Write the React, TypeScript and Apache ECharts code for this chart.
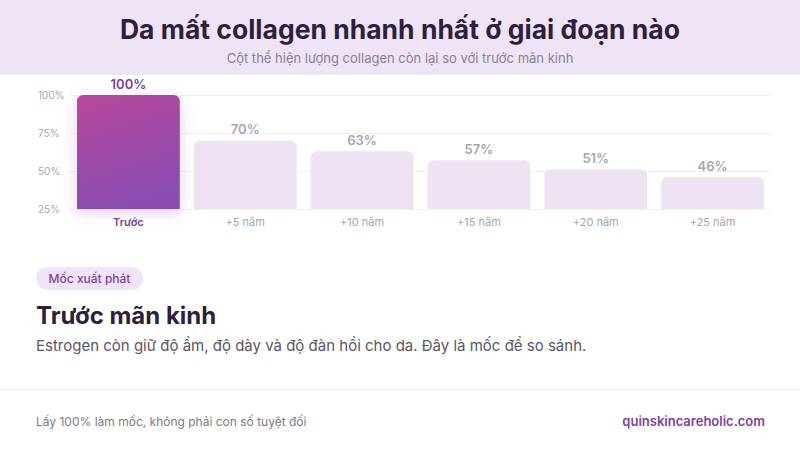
import React, { useEffect, useRef } from 'react';
import * as echarts from 'echarts';

const title = 'Da mất collagen nhanh nhất ở giai đoạn nào';
const subtitle = 'Cột thể hiện lượng collagen còn lại so với trước mãn kinh';
const categories = ['Trước', '+5 năm', '+10 năm', '+15 năm', '+20 năm', '+25 năm'];
const values = [100, 70, 63, 57, 51, 46];
const badgeText = 'Mốc xuất phát';
const stageTitle = 'Trước mãn kinh';
const stageText = 'Estrogen còn giữ độ ẩm, độ dày và độ đàn hồi cho da. Đây là mốc để so sánh.';
const footNote = 'Lấy 100% làm mốc, không phải con số tuyệt đối';
const siteName = 'quinskincareholic.com';

const FONT = 'Inter, "Noto Sans", sans-serif';
const DARK = '#2d1f3d';
const PURPLE = '#7d3fa3';
const GREY = '#a9a4b0';

const App: React.FC = () => {
    const chartRef = useRef<HTMLDivElement>(null);

    useEffect(() => {
        if (!chartRef.current) return;
        const chart = echarts.init(chartRef.current, null, { renderer: 'svg' });

        const highlight = new echarts.graphic.LinearGradient(0, 0, 0.3, 1, [
            { offset: 0, color: '#b8479b' },
            { offset: 1, color: '#894db1' },
        ]);

        const option = {
            animation: false,
            backgroundColor: '#ffffff',
            textStyle: { fontFamily: FONT },
            title: {
                text: title,
                subtext: subtitle,
                left: 'center',
                top: 10,
                itemGap: 9,
                textStyle: { fontFamily: FONT, fontSize: 26.5, fontWeight: 700, color: DARK },
                subtextStyle: { fontFamily: FONT, fontSize: 13, color: '#8a8192' },
            },
            grid: { left: 70, right: 29, top: 95, bottom: 241 },
            xAxis: {
                type: 'category',
                data: categories,
                axisLine: { show: false },
                axisTick: { show: false },
                axisLabel: {
                    margin: 7,
                    fontSize: 11,
                    color: GREY,
                    formatter: (v: string, i: number) => (i === 0 ? `{hl|${v}}` : v),
                    rich: { hl: { color: PURPLE, fontWeight: 600, fontSize: 11, fontFamily: FONT } },
                },
            },
            yAxis: {
                type: 'value',
                min: 25,
                max: 100,
                interval: 25,
                axisLabel: {
                    formatter: '{value}%',
                    align: 'left',
                    margin: 32,
                    fontSize: 10,
                    color: '#aaa5b0',
                },
                splitLine: { lineStyle: { color: '#f1eef3', width: 1 } },
            },
            series: [
                {
                    type: 'bar',
                    barCategoryGap: '12%',
                    data: values.map((v, i) =>
                        i === 0
                            ? {
                                  value: v,
                                  itemStyle: {
                                      color: highlight,
                                      shadowBlur: 14,
                                      shadowOffsetY: 4,
                                      shadowColor: 'rgba(137, 77, 177, 0.25)',
                                  },
                                  label: { color: PURPLE },
                              }
                            : v
                    ),
                    itemStyle: { color: '#ede3f3', borderRadius: [6, 6, 0, 0] },
                    label: {
                        show: true,
                        position: 'top',
                        distance: 5,
                        formatter: '{c}%',
                        fontSize: 13,
                        fontWeight: 600,
                        color: GREY,
                        fontFamily: FONT,
                    },
                },
            ],
            graphic: [
                {
                    type: 'rect',
                    z: -10,
                    shape: { x: 0, y: 0, width: 800, height: 75 },
                    style: { fill: '#efe4f5' },
                },
                {
                    type: 'rect',
                    shape: { x: 36, y: 267, width: 107, height: 23, r: 11.5 },
                    style: { fill: '#f1e4f8' },
                },
                {
                    type: 'text',
                    x: 89.5,
                    y: 278.5,
                    style: {
                        text: badgeText,
                        fill: PURPLE,
                        font: `500 12px ${FONT}`,
                        align: 'center',
                        verticalAlign: 'middle',
                    },
                },
                {
                    type: 'text',
                    x: 36,
                    y: 315,
                    style: {
                        text: stageTitle,
                        fill: DARK,
                        font: `700 24px ${FONT}`,
                        verticalAlign: 'middle',
                    },
                },
                {
                    type: 'text',
                    x: 36,
                    y: 345,
                    style: {
                        text: stageText,
                        fill: '#5b5563',
                        font: `400 15px ${FONT}`,
                        verticalAlign: 'middle',
                    },
                },
                {
                    type: 'line',
                    shape: { x1: 0, y1: 389.5, x2: 800, y2: 389.5 },
                    style: { stroke: '#eeecef', lineWidth: 1 },
                },
                {
                    type: 'text',
                    x: 36,
                    y: 421,
                    style: {
                        text: footNote,
                        fill: '#7f7986',
                        font: `400 12px ${FONT}`,
                        verticalAlign: 'middle',
                    },
                },
                {
                    type: 'text',
                    x: 765,
                    y: 421,
                    style: {
                        text: siteName,
                        fill: PURPLE,
                        font: `600 13px ${FONT}`,
                        align: 'right',
                        verticalAlign: 'middle',
                    },
                },
            ],
        };

        chart.setOption(option);

        return () => {
            chart.dispose();
        };
    }, []);

    return (
        <div
            ref={chartRef}
            style={{ position: 'fixed', left: 0, top: 0, width: '800px', height: '450px' }}
        />
    );
};

export default App;
